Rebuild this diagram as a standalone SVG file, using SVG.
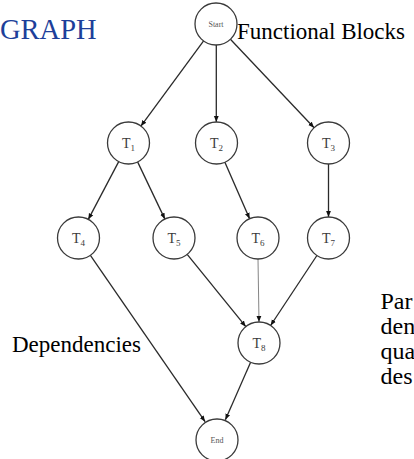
<svg xmlns="http://www.w3.org/2000/svg" width="414" height="459" viewBox="0 0 414 459">
<style>
.node circle{fill:#fff;stroke:#3a3a3a;stroke-width:1.3}
.lbl{font-family:"Liberation Serif","Times New Roman",serif;font-size:14px;fill:#3a3a3a;text-anchor:middle}
.sub{font-size:9px}
.small{font-family:"Liberation Serif","Times New Roman",serif;font-size:8px;fill:#555;text-anchor:middle}
.edge{stroke:#2a2a2a;stroke-width:1.3;fill:none;marker-end:url(#ah)}
.thin{stroke:#777;stroke-width:0.9}
.txt{font-family:"Liberation Serif","Times New Roman",serif;fill:#000}
</style>
<defs>
<marker id="ah" markerUnits="userSpaceOnUse" markerWidth="8" markerHeight="6" refX="6" refY="3" orient="auto">
<path d="M0,0.6 L6,3 L0,5.4 Z" fill="#111"/>
</marker>
</defs>
<text class="txt" x="0" y="38.5" font-size="28.5" style="fill:#1d3f9a">GRAPH</text>
<text class="txt" x="237" y="39" font-size="23">Functional Blocks</text>
<text class="txt" x="12" y="352" font-size="23">Dependencies</text>
<text class="txt" x="380.5" y="309" font-size="24">Par</text>
<text class="txt" x="380.5" y="334" font-size="24">den</text>
<text class="txt" x="380.5" y="359" font-size="24">qua</text>
<text class="txt" x="380.5" y="384" font-size="24">des</text>
<g id="edges">
<line class="edge" x1="203.6" y1="40.9" x2="140.9" y2="126.1"/>
<line class="edge" x1="216.3" y1="45" x2="216.3" y2="122"/>
<line class="edge" x1="230.4" y1="39.3" x2="314.1" y2="127.7"/>
<line class="edge" x1="118.7" y1="161.6" x2="88.3" y2="219.4"/>
<line class="edge" x1="137.6" y1="161.9" x2="164.9" y2="219.1"/>
<line class="edge" x1="224.9" y1="162.2" x2="249.6" y2="218.8"/>
<line class="edge" x1="328.5" y1="164" x2="328.5" y2="217"/>
<line class="edge" x1="90.4" y1="255.3" x2="205.1" y2="421.7"/>
<line class="edge" x1="187.2" y1="254.3" x2="245.8" y2="326.7"/>
<line class="edge thin" x1="258" y1="259" x2="259" y2="322"/>
<line class="edge" x1="316.9" y1="255.5" x2="270.6" y2="325.5"/>
<line class="edge" x1="250.6" y1="362.2" x2="225.4" y2="419.8"/>
</g>
<g id="start" class="node"><circle cx="216" cy="24" r="21"/><text class="small" x="216" y="27">Start</text></g>
<g id="t1" class="node"><circle cx="128.5" cy="143" r="21"/><text class="lbl" x="128.5" y="148">T<tspan class="sub" dy="3">1</tspan></text></g>
<g id="t2" class="node"><circle cx="216.5" cy="143" r="21"/><text class="lbl" x="216.5" y="148">T<tspan class="sub" dy="3">2</tspan></text></g>
<g id="t3" class="node"><circle cx="328.5" cy="143" r="21"/><text class="lbl" x="328.5" y="148">T<tspan class="sub" dy="3">3</tspan></text></g>
<g id="t4" class="node"><circle cx="78.5" cy="238" r="21"/><text class="lbl" x="78.5" y="243">T<tspan class="sub" dy="3">4</tspan></text></g>
<g id="t5" class="node"><circle cx="174" cy="238" r="21"/><text class="lbl" x="174" y="243">T<tspan class="sub" dy="3">5</tspan></text></g>
<g id="t6" class="node"><circle cx="258" cy="238" r="21"/><text class="lbl" x="258" y="243">T<tspan class="sub" dy="3">6</tspan></text></g>
<g id="t7" class="node"><circle cx="328.5" cy="238" r="21"/><text class="lbl" x="328.5" y="243">T<tspan class="sub" dy="3">7</tspan></text></g>
<g id="t8" class="node"><circle cx="259" cy="343" r="21"/><text class="lbl" x="259" y="348">T<tspan class="sub" dy="3">8</tspan></text></g>
<g id="end" class="node"><circle cx="217" cy="440" r="21"/><text class="small" x="217" y="443">End</text></g>
</svg>
